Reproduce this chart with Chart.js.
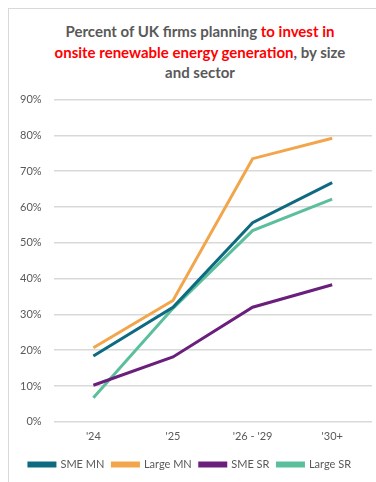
<!DOCTYPE html>
<html>
<head>
<meta charset="utf-8">
<script src="https://cdn.jsdelivr.net/npm/chart.js@4/dist/chart.umd.min.js"></script>
<style>
  html, body { margin: 0; padding: 0; background: #fff; }
  body { width: 376px; height: 482px; position: relative; overflow: hidden; font-family: Lato, "Open Sans", sans-serif; }
  .frame { position: absolute; left: 8px; top: 8px; width: 400px; height: 500px;
           border-left: 1px solid #d9d9d9; border-top: 1px solid #d9d9d9; }
  .title { position: absolute; left: 40px; top: 21px; width: 320px; text-align: center;
           font-weight: bold; font-size: 15px; line-height: 20.5px; color: #595959; }
  .title .hl { color: #ff0000; }
  .wrap { position: absolute; left: 0; top: 81px; width: 376px; height: 401px; }
</style>
</head>
<body>
<div class="frame"></div>
<div class="title">Percent of UK firms planning <span class="hl">to invest in<br>onsite renewable energy generation</span>, by size<br>and sector</div>
<div class="wrap"><canvas id="c"></canvas></div>
<script>
const periods = ["'24", "'25", "'26 - '29", "'30+"];
const smeMN   = [18.4, 32.0, 55.6, 66.8];
const largeMN = [20.7, 33.9, 73.5, 79.2];
const smeSR   = [10.2, 18.1, 32.0, 38.3];
const largeSR = [6.7, 31.7, 53.4, 62.2];
const yTicks  = [0, 10, 20, 30, 40, 50, 60, 70, 80, 90];

const line = (label, data, color) => ({
  label, data, borderColor: color, backgroundColor: color,
  borderWidth: 3, pointRadius: 0, tension: 0, fill: false
});

new Chart(document.getElementById('c'), {
  type: 'line',
  data: {
    labels: periods,
    datasets: [
      line('SME MN', smeMN, '#0e6a80'),
      line('Large MN', largeMN, '#f2a54a'),
      line('SME SR', smeSR, '#6b1f7c'),
      line('Large SR', largeSR, '#5bbf9c')
    ]
  },
  options: {
    responsive: true,
    maintainAspectRatio: false,
    animation: false,
    layout: { padding: { top: 2, right: 4, bottom: 2, left: 8 } },
    plugins: {
      title: { display: false },
      tooltip: { enabled: false },
      legend: {
        position: 'bottom',
        labels: {
          boxWidth: 26, boxHeight: 3, padding: 8,
          color: '#595959', font: { family: 'Lato', size: 11 }
        }
      }
    },
    scales: {
      x: {
        offset: true,
        grid: { display: false, drawTicks: false },
        border: { display: false },
        ticks: { color: '#595959', font: { family: 'Lato', size: 11 }, padding: 8, maxRotation: 0 }
      },
      y: {
        min: 0, max: 90,
        afterBuildTicks: (s) => { s.ticks = yTicks.map(v => ({ value: v })); },
        grid: { color: '#d9d9d9', lineWidth: 1.5, drawTicks: false },
        border: { display: false },
        ticks: { color: '#595959', font: { family: 'Lato', size: 11 }, padding: 12,
                 callback: (v) => v + '%' }
      }
    }
  }
});
</script>
</body>
</html>
